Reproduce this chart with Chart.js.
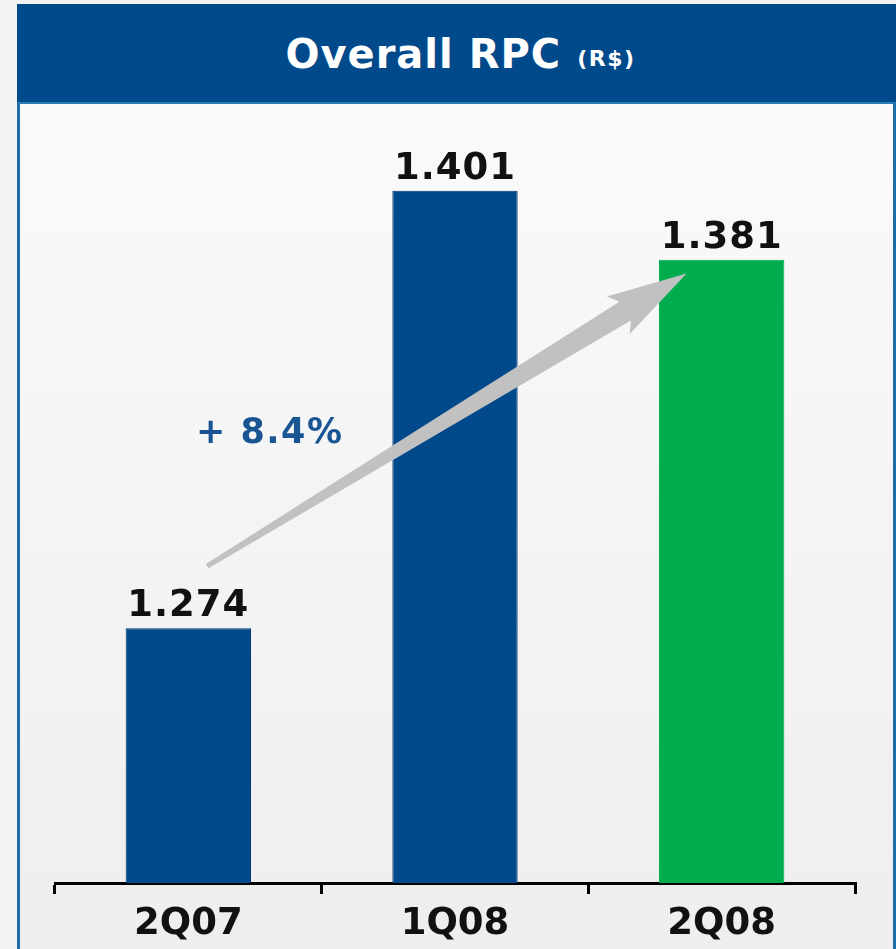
<!DOCTYPE html>
<html>
<head>
<meta charset="utf-8">
<script src="https://cdn.jsdelivr.net/npm/chart.js@4/dist/chart.umd.min.js"></script>
<style>
  html, body { margin: 0; padding: 0; }
  body { width: 896px; height: 949px; position: relative; overflow: hidden; background: #f3f3f3; font-family: "DejaVu Sans", sans-serif; }
  #header {
    position: absolute; left: 17px; top: 4px; width: 879px; height: 98px;
    background: #00498a; color: #fff; font-weight: bold;
    display: flex; align-items: center; justify-content: center;
    font-size: 40px; letter-spacing: 1px; padding-left: 8px; padding-top: 2px; box-sizing: border-box;
  }
  #header small { font-size: 22px; margin-left: 16px; position: relative; top: 4px; letter-spacing: 1.5px; }
  #panel {
    position: absolute; left: 17px; top: 102px; width: 879px; height: 847px; box-sizing: border-box;
    border-left: 3px solid #1b6fa6; border-right: 3px solid #1b6fa6; border-top: 2px solid #2a7db3;
    background: linear-gradient(#fafafa, #eeeeee);
  }
  #chart { position: absolute; left: 0; top: 0; }
</style>
</head>
<body>
<div id="header">Overall RPC<small>(R$)</small></div>
<div id="panel"></div>
<canvas id="chart" width="896" height="949"></canvas>
<script>
// data
const categories = ["2Q07", "1Q08", "2Q08"];
const rpcValues = [1.274, 1.401, 1.381];
const valueLabels = ["1.274", "1.401", "1.381"];
const barColors = ["#00498a", "#00498a", "#00ac4e"];
const growthLabel = "+ 8.4%";
// arrow from just above the 2Q07 bar to the 2Q08 bar top
const arrowFrom = { index: 0, value: 1.292 };
const arrowTo = { index: 2, value: 1.377 };

const labelPlugin = {
  id: "labels",
  afterDatasetsDraw(chart) {
    const ctx = chart.ctx;
    const meta = chart.getDatasetMeta(0);
    const xs = chart.scales.x;
    const ys = chart.scales.y;
    const barW = meta.data[0].width;

    // growth arrow
    const x1 = xs.getPixelForValue(arrowFrom.index) + 0.15 * barW;
    const y1 = ys.getPixelForValue(arrowFrom.value);
    const x2 = xs.getPixelForValue(arrowTo.index) - 0.28 * barW;
    const y2 = ys.getPixelForValue(arrowTo.value);
    const len = Math.hypot(x2 - x1, y2 - y1);
    const ux = (x2 - x1) / len, uy = (y2 - y1) / len;
    const nx = -uy, ny = ux;
    const pt = (back, side) => [x2 - ux * back + nx * side, y2 - uy * back + ny * side];
    const poly = [pt(len, 2.5), pt(72, 11), pt(80, 22), pt(0, 0), pt(80, -22), pt(72, -11), pt(len, -2.5)];
    ctx.save();
    ctx.fillStyle = "#c1c1c1";
    ctx.beginPath();
    poly.forEach(([px, py], i) => (i ? ctx.lineTo(px, py) : ctx.moveTo(px, py)));
    ctx.closePath();
    ctx.fill();

    // value labels
    ctx.fillStyle = "#111";
    ctx.font = "bold 37px 'DejaVu Sans'";
    ctx.textAlign = "center";
    ctx.textBaseline = "alphabetic";
    ctx.letterSpacing = "1px";
    meta.data.forEach((bar, i) => {
      ctx.fillText(valueLabels[i], bar.x, bar.y - 12);
    });

    // growth text
    ctx.fillStyle = "#1a5593";
    ctx.font = "bold 35px 'DejaVu Sans'";
    ctx.letterSpacing = "1.5px";
    const gx = (xs.getPixelForValue(0) + xs.getPixelForValue(1)) / 2 - 52;
    const gy = ys.getPixelForValue(1.3277);
    ctx.fillText(growthLabel, gx, gy);
    ctx.restore();
  }
};

new Chart(document.getElementById("chart"), {
  type: "bar",
  data: {
    labels: categories,
    datasets: [{
      data: rpcValues,
      backgroundColor: barColors,
      borderColor: ["#00386d", "#00386d", "#00ac4e"],
      borderWidth: 1,
      barPercentage: 0.94,
      categoryPercentage: 0.5
    }]
  },
  options: {
    responsive: false,
    animation: false,
    events: [],
    layout: { padding: { left: 55, right: 41, top: 91, bottom: 0 } },
    plugins: { legend: { display: false }, tooltip: { enabled: false } },
    scales: {
      y: { display: false, min: 1.2, max: 1.43 },
      x: {
        afterFit: (scale) => { scale.height = 66; },
        border: { display: true, color: "#000", width: 3 },
        grid: { offset: true, drawOnChartArea: false, drawTicks: true, tickLength: 11, color: "#000", lineWidth: 3 },
        ticks: { color: "#111", padding: 8, font: { family: "DejaVu Sans", size: 37, weight: "bold" } }
      }
    }
  },
  plugins: [labelPlugin]
});
</script>
</body>
</html>
